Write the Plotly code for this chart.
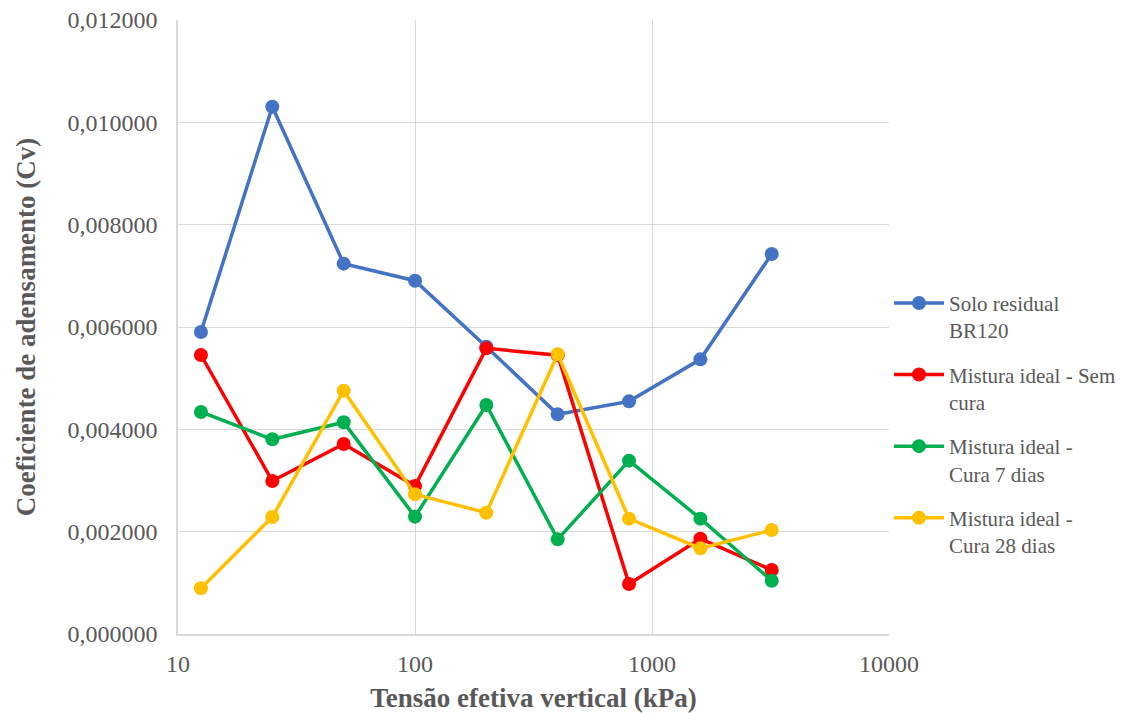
import plotly.graph_objects as go

tensao = [12.5, 25, 50, 100, 200, 400, 800, 1600, 3200]

solo_br120 = [0.005902, 0.010306, 0.007238, 0.006905, 0.005615, 0.004293, 0.004547, 0.005368, 0.007427]
sem_cura = [0.005453, 0.002990, 0.003713, 0.002893, 0.005583, 0.005450, 0.000977, 0.001863, 0.001251]
cura_7 = [0.004339, 0.003805, 0.004137, 0.002293, 0.004476, 0.001850, 0.003388, 0.002254, 0.001042]
cura_28 = [0.000893, 0.002287, 0.004755, 0.002730, 0.002371, 0.005466, 0.002254, 0.001674, 0.002033]

series = [
    ("Solo residual<br>BR120", solo_br120, "#4472C4"),
    ("Mistura ideal - Sem<br>cura", sem_cura, "#FF0000"),
    ("Mistura ideal -<br>Cura 7 dias", cura_7, "#00B050"),
    ("Mistura ideal -<br>Cura 28 dias", cura_28, "#FFC000"),
]

x_ticks = [10, 100, 1000, 10000]
y_ticks = [0, 0.002, 0.004, 0.006, 0.008, 0.010, 0.012]

FONT = "Liberation Serif, Times New Roman, serif"
GRAY = "#595959"
GRID = "#d9d9d9"

fig = go.Figure()
for i, (name, ys, color) in enumerate(series):
    fig.add_trace(go.Scatter(
        x=tensao, y=ys, name=name, mode="lines+markers",
        line=dict(color=color, width=3.5),
        marker=dict(color=color, size=14),
        legendgroup=f"g{i}",
    ))

fig.update_layout(
    width=1135, height=713,
    margin=dict(l=178, r=246, t=20, b=79),
    paper_bgcolor="white", plot_bgcolor="white",
    separators=",.",
    font=dict(family=FONT, color=GRAY, size=24),
    showlegend=True,
    legend=dict(
        x=1.0, xanchor="left", y=0.572, yanchor="top",
        font=dict(family=FONT, size=21, color=GRAY),
        valign="top", tracegroupgap=14, itemwidth=50,
        bgcolor="rgba(0,0,0,0)",
    ),
)

fig.update_xaxes(
    type="log", range=[1, 4], automargin=False,
    tickvals=x_ticks, ticktext=[str(v) for v in x_ticks],
    showgrid=True, gridcolor=GRID, gridwidth=1,
    showline=True, linecolor=GRID, linewidth=1.5,
    ticks="", ticklabelstandoff=7, zeroline=False,
    tickfont=dict(family=FONT, size=24, color=GRAY),
    title=dict(text="<b>Tensão efetiva vertical (kPa)</b>", standoff=16,
               font=dict(family=FONT, size=27, color=GRAY)),
)
fig.update_yaxes(
    range=[0, 0.012], tickvals=y_ticks, tickformat=".6f", automargin=False,
    showgrid=True, gridcolor=GRID, gridwidth=1,
    showline=True, linecolor=GRID, linewidth=1.5,
    ticks="", ticklabelstandoff=14, zeroline=False, ticklabeloverflow="allow",
    tickfont=dict(family=FONT, size=24, color=GRAY),
    title=dict(text="<b>Coeficiente de adensamento (Cv)</b>", standoff=24,
               font=dict(family=FONT, size=27, color=GRAY)),
)

# drop the default 8px body margin so the figure sits at the window's corner
fig.write_html("out.html", config={"displayModeBar": False},
               post_script="document.body.style.margin='0';")
